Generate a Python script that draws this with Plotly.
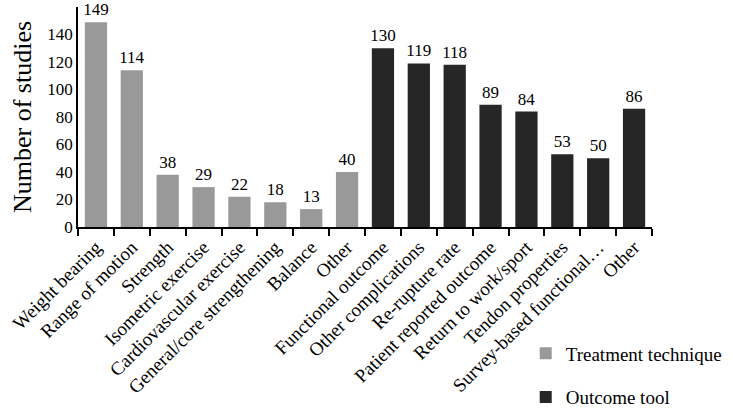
import plotly.graph_objects as go

# Data
treatment_labels = ["Weight bearing", "Range of motion", "Strength", "Isometric exercise",
                    "Cardiovascular exercise", "General/core strengthening", "Balance", "Other"]
treatment_values = [149, 114, 38, 29, 22, 18, 13, 40]

outcome_labels = ["Functional outcome", "Other complications", "Re-rupture rate",
                  "Patient reported outcome", "Return to work/sport", "Tendon properties",
                  "Survey-based functional…", "Other\u200b"]
outcome_values = [130, 119, 118, 89, 84, 53, 50, 86]

FONT = "Liberation Serif"

fig = go.Figure()
fig.add_trace(go.Bar(
    x=treatment_labels, y=treatment_values, name="Treatment technique",
    marker=dict(color="#999999", line=dict(width=0)),
    text=treatment_values, textposition="outside", cliponaxis=False, constraintext="none",
    textfont=dict(size=17, color="#000000", family=FONT),
    legendgroup="a",
))
fig.add_trace(go.Bar(
    x=outcome_labels, y=outcome_values, name="Outcome tool",
    marker=dict(color="#262626", line=dict(width=0)),
    text=outcome_values, textposition="outside", cliponaxis=False, constraintext="none",
    textfont=dict(size=17, color="#000000", family=FONT),
    legendgroup="b",
))

fig.update_layout(
    width=733, height=410,
    paper_bgcolor="white", plot_bgcolor="white",
    font=dict(family=FONT, color="#000000"),
    margin=dict(l=78, r=81, t=7, b=183, autoexpand=False),
    bargap=0.38, barmode="overlay",
    legend=dict(x=0.78, y=-0.488, xanchor="left", yanchor="top",
                font=dict(size=19, family=FONT), tracegroupgap=16,
                traceorder="grouped", bgcolor="rgba(0,0,0,0)"),
)
fig.update_xaxes(
    type="category", tickangle=-45, tickfont=dict(size=19, family=FONT),
    showline=True, linecolor="#000000", linewidth=1.5, automargin=False,
    ticks="outside", tickson="boundaries", ticklen=7, tickcolor="#000000", tickwidth=1.5,
    showgrid=False,
)
fig.update_yaxes(
    range=[0, 160], dtick=20, tickfont=dict(size=17, family=FONT),
    showline=True, linecolor="#000000", linewidth=1.5, ticks="", automargin=False,
    showgrid=False, zeroline=False,
    title=dict(text="Number of studies", font=dict(size=26, family=FONT), standoff=8),
)

# drop the default 8px page margin so the figure sits flush in the window
fig.write_html("out.html", config={"displayModeBar": False},
               post_script="document.body.style.margin = '0px';")
